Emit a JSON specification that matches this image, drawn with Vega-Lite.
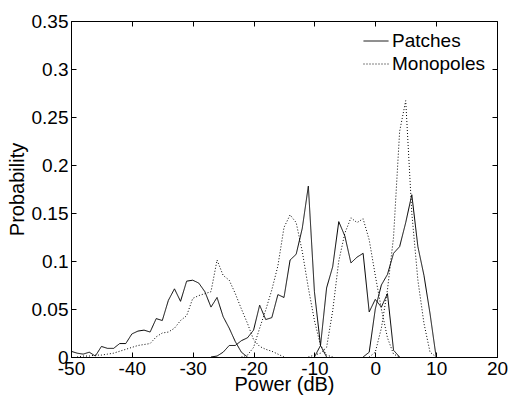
{
 "$schema": "https://vega.github.io/schema/vega-lite/v6.json",
 "width": 426, "height": 336,
 "autosize": "none",
 "padding": {"left": 71, "top": 21, "right": 14, "bottom": 40},
 "background": "white",
 "config": {
  "view": {"stroke": "black", "strokeWidth": 1},
  "font": "Liberation Sans",
  "axis": {"grid": false, "domainColor": "black", "tickColor": "black", "labelColor": "black", "titleColor": "black",
   "labelFontSize": 19, "titleFontSize": 20, "titleFontWeight": "normal", "labelFont": "Liberation Sans", "titleFont": "Liberation Sans",
   "labelOverlap": false, "labelFlush": false, "labelBound": false, "tickSize": -5, "labelPadding": 8}
 },
 "data": {"values": [
  {"type":"Patches","group":"P1","p":-50,"v":0.006},{"type":"Patches","group":"P1","p":-49,"v":0.004},{"type":"Patches","group":"P1","p":-48,"v":0.003},{"type":"Patches","group":"P1","p":-47,"v":0.005},{"type":"Patches","group":"P1","p":-46,"v":0.001},{"type":"Patches","group":"P1","p":-45,"v":0.011},{"type":"Patches","group":"P1","p":-44,"v":0.009},{"type":"Patches","group":"P1","p":-43,"v":0.009},{"type":"Patches","group":"P1","p":-42,"v":0.014},{"type":"Patches","group":"P1","p":-41,"v":0.014},{"type":"Patches","group":"P1","p":-40,"v":0.024},{"type":"Patches","group":"P1","p":-39,"v":0.027},{"type":"Patches","group":"P1","p":-38,"v":0.028},{"type":"Patches","group":"P1","p":-37,"v":0.026},{"type":"Patches","group":"P1","p":-36,"v":0.040},{"type":"Patches","group":"P1","p":-35,"v":0.038},{"type":"Patches","group":"P1","p":-34,"v":0.059},{"type":"Patches","group":"P1","p":-33,"v":0.071},{"type":"Patches","group":"P1","p":-32,"v":0.058},{"type":"Patches","group":"P1","p":-31,"v":0.079},{"type":"Patches","group":"P1","p":-30,"v":0.080},{"type":"Patches","group":"P1","p":-29,"v":0.077},{"type":"Patches","group":"P1","p":-28,"v":0.068},{"type":"Patches","group":"P1","p":-27,"v":0.052},{"type":"Patches","group":"P1","p":-26,"v":0.062},{"type":"Patches","group":"P1","p":-25,"v":0.042},{"type":"Patches","group":"P1","p":-24,"v":0.030},{"type":"Patches","group":"P1","p":-23,"v":0.016},{"type":"Patches","group":"P1","p":-22,"v":0.005},{"type":"Patches","group":"P1","p":-21,"v":0.0},
  {"type":"Monopoles","group":"M1","p":-49,"v":0.0},{"type":"Monopoles","group":"M1","p":-48,"v":0.001},{"type":"Monopoles","group":"M1","p":-47,"v":0.001},{"type":"Monopoles","group":"M1","p":-46,"v":0.002},{"type":"Monopoles","group":"M1","p":-45,"v":0.002},{"type":"Monopoles","group":"M1","p":-44,"v":0.003},{"type":"Monopoles","group":"M1","p":-43,"v":0.004},{"type":"Monopoles","group":"M1","p":-42,"v":0.006},{"type":"Monopoles","group":"M1","p":-41,"v":0.008},{"type":"Monopoles","group":"M1","p":-40,"v":0.010},{"type":"Monopoles","group":"M1","p":-39,"v":0.012},{"type":"Monopoles","group":"M1","p":-38,"v":0.013},{"type":"Monopoles","group":"M1","p":-37,"v":0.014},{"type":"Monopoles","group":"M1","p":-36,"v":0.021},{"type":"Monopoles","group":"M1","p":-35,"v":0.025},{"type":"Monopoles","group":"M1","p":-34,"v":0.026},{"type":"Monopoles","group":"M1","p":-33,"v":0.030},{"type":"Monopoles","group":"M1","p":-32,"v":0.038},{"type":"Monopoles","group":"M1","p":-31,"v":0.043},{"type":"Monopoles","group":"M1","p":-30,"v":0.061},{"type":"Monopoles","group":"M1","p":-29,"v":0.064},{"type":"Monopoles","group":"M1","p":-28,"v":0.066},{"type":"Monopoles","group":"M1","p":-27,"v":0.068},{"type":"Monopoles","group":"M1","p":-26,"v":0.101},{"type":"Monopoles","group":"M1","p":-25,"v":0.085},{"type":"Monopoles","group":"M1","p":-24,"v":0.080},{"type":"Monopoles","group":"M1","p":-23,"v":0.066},{"type":"Monopoles","group":"M1","p":-22,"v":0.050},{"type":"Monopoles","group":"M1","p":-21,"v":0.035},{"type":"Monopoles","group":"M1","p":-20,"v":0.018},{"type":"Monopoles","group":"M1","p":-19,"v":0.011},{"type":"Monopoles","group":"M1","p":-18,"v":0.008},{"type":"Monopoles","group":"M1","p":-17,"v":0.006},{"type":"Monopoles","group":"M1","p":-16,"v":0.003},{"type":"Monopoles","group":"M1","p":-15,"v":0.0},
  {"type":"Patches","group":"P2","p":-27,"v":0.0},{"type":"Patches","group":"P2","p":-26,"v":0.001},{"type":"Patches","group":"P2","p":-25,"v":0.005},{"type":"Patches","group":"P2","p":-24,"v":0.012},{"type":"Patches","group":"P2","p":-23,"v":0.012},{"type":"Patches","group":"P2","p":-22,"v":0.017},{"type":"Patches","group":"P2","p":-21,"v":0.020},{"type":"Patches","group":"P2","p":-20,"v":0.028},{"type":"Patches","group":"P2","p":-19,"v":0.054},{"type":"Patches","group":"P2","p":-18,"v":0.039},{"type":"Patches","group":"P2","p":-17,"v":0.041},{"type":"Patches","group":"P2","p":-16,"v":0.065},{"type":"Patches","group":"P2","p":-15,"v":0.062},{"type":"Patches","group":"P2","p":-14,"v":0.101},{"type":"Patches","group":"P2","p":-13,"v":0.107},{"type":"Patches","group":"P2","p":-12,"v":0.134},{"type":"Patches","group":"P2","p":-11,"v":0.178},{"type":"Patches","group":"P2","p":-10,"v":0.068},{"type":"Patches","group":"P2","p":-9,"v":0.012},{"type":"Patches","group":"P2","p":-8,"v":0.0},
  {"type":"Monopoles","group":"M2","p":-22,"v":0.0},{"type":"Monopoles","group":"M2","p":-21,"v":0.002},{"type":"Monopoles","group":"M2","p":-20,"v":0.010},{"type":"Monopoles","group":"M2","p":-19,"v":0.030},{"type":"Monopoles","group":"M2","p":-18,"v":0.049},{"type":"Monopoles","group":"M2","p":-17,"v":0.070},{"type":"Monopoles","group":"M2","p":-16,"v":0.095},{"type":"Monopoles","group":"M2","p":-15,"v":0.135},{"type":"Monopoles","group":"M2","p":-14,"v":0.148},{"type":"Monopoles","group":"M2","p":-13,"v":0.140},{"type":"Monopoles","group":"M2","p":-12,"v":0.110},{"type":"Monopoles","group":"M2","p":-11,"v":0.072},{"type":"Monopoles","group":"M2","p":-10,"v":0.038},{"type":"Monopoles","group":"M2","p":-9,"v":0.012},{"type":"Monopoles","group":"M2","p":-8,"v":0.002},{"type":"Monopoles","group":"M2","p":-7,"v":0.0},
  {"type":"Patches","group":"P3","p":-10,"v":0.0},{"type":"Patches","group":"P3","p":-9,"v":0.012},{"type":"Patches","group":"P3","p":-8,"v":0.072},{"type":"Patches","group":"P3","p":-7,"v":0.094},{"type":"Patches","group":"P3","p":-6,"v":0.141},{"type":"Patches","group":"P3","p":-5,"v":0.126},{"type":"Patches","group":"P3","p":-4,"v":0.098},{"type":"Patches","group":"P3","p":-3,"v":0.104},{"type":"Patches","group":"P3","p":-2,"v":0.108},{"type":"Patches","group":"P3","p":-1,"v":0.047},{"type":"Patches","group":"P3","p":0,"v":0.060},{"type":"Patches","group":"P3","p":1,"v":0.052},{"type":"Patches","group":"P3","p":2,"v":0.066},{"type":"Patches","group":"P3","p":3,"v":0.007},{"type":"Patches","group":"P3","p":4,"v":0.0},
  {"type":"Monopoles","group":"M3","p":-11,"v":0.0},{"type":"Monopoles","group":"M3","p":-10,"v":0.002},{"type":"Monopoles","group":"M3","p":-9,"v":0.004},{"type":"Monopoles","group":"M3","p":-8,"v":0.010},{"type":"Monopoles","group":"M3","p":-7,"v":0.048},{"type":"Monopoles","group":"M3","p":-6,"v":0.100},{"type":"Monopoles","group":"M3","p":-5,"v":0.129},{"type":"Monopoles","group":"M3","p":-4,"v":0.145},{"type":"Monopoles","group":"M3","p":-3,"v":0.140},{"type":"Monopoles","group":"M3","p":-2,"v":0.144},{"type":"Monopoles","group":"M3","p":-1,"v":0.122},{"type":"Monopoles","group":"M3","p":0,"v":0.085},{"type":"Monopoles","group":"M3","p":1,"v":0.050},{"type":"Monopoles","group":"M3","p":2,"v":0.020},{"type":"Monopoles","group":"M3","p":3,"v":0.003},{"type":"Monopoles","group":"M3","p":4,"v":0.0},
  {"type":"Patches","group":"P4","p":-2,"v":0.0},{"type":"Patches","group":"P4","p":-1,"v":0.005},{"type":"Patches","group":"P4","p":0,"v":0.050},{"type":"Patches","group":"P4","p":1,"v":0.075},{"type":"Patches","group":"P4","p":2,"v":0.086},{"type":"Patches","group":"P4","p":3,"v":0.108},{"type":"Patches","group":"P4","p":4,"v":0.115},{"type":"Patches","group":"P4","p":5,"v":0.140},{"type":"Patches","group":"P4","p":6,"v":0.169},{"type":"Patches","group":"P4","p":7,"v":0.115},{"type":"Patches","group":"P4","p":8,"v":0.085},{"type":"Patches","group":"P4","p":9,"v":0.045},{"type":"Patches","group":"P4","p":10,"v":0.0},
  {"type":"Monopoles","group":"M4","p":-1,"v":0.0},{"type":"Monopoles","group":"M4","p":0,"v":0.005},{"type":"Monopoles","group":"M4","p":1,"v":0.030},{"type":"Monopoles","group":"M4","p":2,"v":0.070},{"type":"Monopoles","group":"M4","p":3,"v":0.125},{"type":"Monopoles","group":"M4","p":4,"v":0.235},{"type":"Monopoles","group":"M4","p":5,"v":0.267},{"type":"Monopoles","group":"M4","p":6,"v":0.150},{"type":"Monopoles","group":"M4","p":7,"v":0.080},{"type":"Monopoles","group":"M4","p":8,"v":0.035},{"type":"Monopoles","group":"M4","p":9,"v":0.005},{"type":"Monopoles","group":"M4","p":10,"v":0.0}
 ]},
 "layer": [
  {
   "mark": {"type": "line", "strokeWidth": 1, "color": "black", "clip": true},
   "encoding": {
    "x": {"field": "p", "type": "quantitative", "scale": {"domain": [-50, 20], "nice": false, "zero": false},
     "axis": {"title": "Power (dB)", "values": [-50, -40, -30, -20, -10, 0, 10, 20], "titlePadding": -4, "labelPadding": 7,
      "labelExpr": "replace(datum.label, '\u2212', '-')"}},
    "y": {"field": "v", "type": "quantitative", "scale": {"domain": [0, 0.35], "nice": false},
     "axis": {"title": "Probability", "values": [0, 0.05, 0.1, 0.15, 0.2, 0.25, 0.3, 0.35], "format": "~g", "titlePadding": 4}},
    "strokeDash": {"field": "type", "type": "nominal",
     "scale": {"domain": ["Patches", "Monopoles"], "range": [[1, 0], [1, 2]]},
     "legend": {"title": null, "orient": "none", "legendX": 292, "legendY": 7, "symbolType": "stroke", "symbolSize": 625,
      "symbolStrokeColor": "black", "symbolStrokeWidth": 1, "labelFontSize": 19, "labelFont": "Liberation Sans", "labelColor": "black",
      "labelOffset": 3, "rowPadding": -5}},
    "detail": {"field": "group"}
   }
  },
  {
   "mark": {"type": "line", "opacity": 0},
   "encoding": {
    "x": {"field": "p", "type": "quantitative", "axis": {"orient": "top", "labels": false, "title": null, "domain": false, "values": [-50, -40, -30, -20, -10, 0, 10, 20]}},
    "y": {"field": "v", "type": "quantitative", "axis": {"orient": "right", "labels": false, "title": null, "domain": false, "values": [0, 0.05, 0.1, 0.15, 0.2, 0.25, 0.3, 0.35]}},
    "detail": {"field": "group"}
   }
  }
 ],
 "resolve": {"axis": {"x": "independent", "y": "independent"}}
}
